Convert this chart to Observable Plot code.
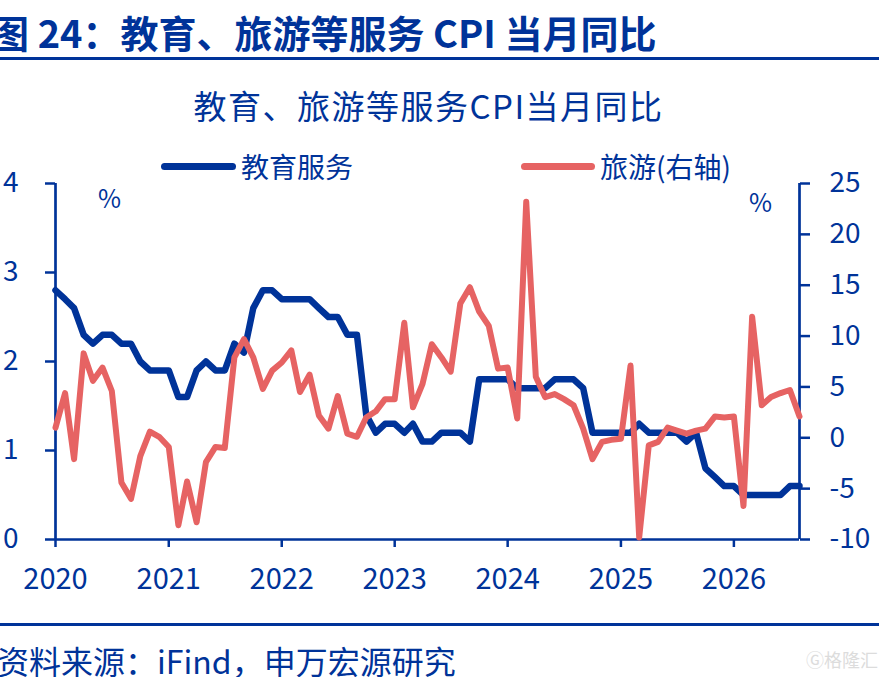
<!DOCTYPE html>
<html>
<head>
<meta charset="utf-8">
<script src="https://cdn.jsdelivr.net/npm/d3@7"></script>
<script src="https://cdn.jsdelivr.net/npm/@observablehq/plot@0.6"></script>
<style>
  html, body { margin: 0; padding: 0; background: #fff; }
  body { width: 879px; height: 677px; position: relative; overflow: hidden; font-family: "Noto Sans CJK SC", "Noto Sans", sans-serif; color: #003399; }
  .abs { position: absolute; white-space: nowrap; }
  #chart { position: absolute; left: 0; top: 170px; }
</style>
</head>
<body>
<div class="abs" style="left:-9px; top:7px; font-size:38px; line-height:50px; font-weight:bold;">图 24：教育、旅游等服务 CPI 当月同比</div>
<div class="abs" style="left:0; top:57px; width:879px; height:3px; background:#003399;"></div>
<div class="abs" style="left:0; top:85px; width:857px; text-align:center; font-size:33px; line-height:40px; letter-spacing:1.5px;">教育、旅游等服务CPI当月同比</div>

<div class="abs" style="left:161px; top:163px; width:75px; height:7px; border-radius:4px; background:#003399;"></div>
<div class="abs" style="left:241px; top:148px; font-size:28px; line-height:36px;">教育服务</div>
<div class="abs" style="left:521px; top:163px; width:74px; height:7px; border-radius:4px; background:#E66363;"></div>
<div class="abs" style="left:600px; top:148px; font-size:28px; line-height:36px;">旅游(右轴)</div>

<div id="chart"></div>

<div class="abs" style="left:0; top:623px; width:879px; height:3px; background:#003399;"></div>
<div class="abs" style="left:-3px; top:640px; font-size:32px; line-height:40px;">资料来源：<span style="text-decoration: underline dotted #e05050; text-underline-offset: 4px;">iFind</span>，申万宏源研究</div>
<div class="abs" style="left:806px; top:648px; font-size:18px; line-height:22px; color:#dcdcdc;">Ⓖ格隆汇</div>

<script>
const blue = "#003399";
const red = "#E66363";

// Monthly observations starting January 2020
const startMonth = "2020-01-01";

// 教育服务 CPI 当月同比 (%, left axis)
const education = [
  2.8, 2.7, 2.6, 2.3, 2.2, 2.3, 2.3, 2.2, 2.2, 2.0, 1.9, 1.9,
  1.9, 1.6, 1.6, 1.9, 2.0, 1.9, 1.9, 2.2, 2.1, 2.6, 2.8, 2.8,
  2.7, 2.7, 2.7, 2.7, 2.6, 2.5, 2.5, 2.3, 2.3, 1.4, 1.2, 1.3,
  1.3, 1.2, 1.3, 1.1, 1.1, 1.2, 1.2, 1.2, 1.1, 1.8, 1.8, 1.8,
  1.8, 1.7, 1.7, 1.7, 1.7, 1.8, 1.8, 1.8, 1.7, 1.2, 1.2, 1.2,
  1.2, 1.2, 1.3, 1.2, 1.2, 1.2, 1.2, 1.1, 1.2, 0.8, 0.7, 0.6,
  0.6, 0.5, 0.5, 0.5, 0.5, 0.5, 0.6, 0.6
];

// 旅游 CPI 当月同比 (%, right axis)
const tourism = [
  1.0, 4.4, -2.1, 8.3, 5.6, 6.9, 4.6, -4.4, -6.0, -1.8, 0.6, 0.1,
  -0.9, -8.6, -4.3, -8.3, -2.4, -0.9, -1.0, 7.9, 9.7, 7.9, 4.8, 6.6,
  7.4, 8.6, 4.5, 6.2, 2.2, 0.9, 4.1, 0.4, 0.1, 2.0, 2.6, 3.8,
  3.8, 11.3, 3.0, 5.3, 9.2, 7.9, 6.5, 13.2, 14.8, 12.4, 11.0, 6.8,
  6.9, 1.9, 23.2, 6.0, 4.0, 4.3, 3.8, 3.2, 0.9, -2.1, -0.4, -0.2,
  -0.1, 7.1, -9.8, -0.75, -0.4, 1.0, 0.7, 0.4, 0.7, 0.9, 2.1, 2.0,
  2.1, -6.7, 11.9, 3.2, 4.0, 4.4, 4.7, 2.1
];

const leftTicks = [0, 1, 2, 3, 4];
const rightTicks = [-10, -5, 0, 5, 10, 15, 20, 25];
const yearTicks = ["2020", "2021", "2022", "2023", "2024", "2025", "2026"];

const leftDomain = [0, 4];
const rightDomain = [-10, 25];
// map right-axis values onto the left scale
const toLeft = v => leftDomain[0] + (v - rightDomain[0]) * (leftDomain[1] - leftDomain[0]) / (rightDomain[1] - rightDomain[0]);
const fromLeft = v => rightDomain[0] + (v - leftDomain[0]) * (rightDomain[1] - rightDomain[0]) / (leftDomain[1] - leftDomain[0]);

const start = new Date(startMonth);
const dateAt = i => d3.utcMonth.offset(start, i);
const eduData = education.map((v, i) => ({date: dateAt(i), value: v}));
const tourData = tourism.map((v, i) => ({date: dateAt(i), value: toLeft(v)}));
const xDomain = [dateAt(0), dateAt(education.length - 1)];

const chart = Plot.plot({
  width: 879,
  height: 440,
  marginTop: 13,
  marginBottom: 71,
  marginLeft: 55,
  marginRight: 80,
  style: {fontFamily: "'Noto Sans CJK SC', 'Noto Sans', sans-serif", fontSize: "28px", color: blue, background: "transparent", overflow: "visible"},
  x: {type: "utc", domain: xDomain},
  y: {domain: leftDomain},
  marks: [
    Plot.axisX(yearTicks.map(y => new Date(y + "-01-01")), {
      tickFormat: d3.utcFormat("%Y"), tickSize: 8, tickPadding: 21, fontSize: 29, strokeWidth: 2.5, label: null
    }),
    Plot.axisY(leftTicks, {anchor: "left", tickSize: 10, tickPadding: 27, fontSize: 28, strokeWidth: 2.5, label: null,
      tickFormat: d => String(d)}),
    Plot.axisY(rightTicks.map(toLeft), {
      anchor: "right", tickSize: 10, tickPadding: 20, fontSize: 28, strokeWidth: 2.5, label: null,
      tickFormat: d => String(Math.round(fromLeft(d)))
    }),
    Plot.ruleY([leftDomain[0]], {stroke: blue, strokeWidth: 2.7}),
    Plot.ruleX([xDomain[0]], {y1: leftDomain[0], y2: leftDomain[1], stroke: blue, strokeWidth: 2.7}),
    Plot.ruleX([xDomain[1]], {y1: leftDomain[0], y2: leftDomain[1], stroke: blue, strokeWidth: 2.7}),
    Plot.line(eduData, {x: "date", y: "value", stroke: blue, strokeWidth: 6.5, strokeLinejoin: "round"}),
    Plot.line(tourData, {x: "date", y: "value", stroke: red, strokeWidth: 6, strokeLinejoin: "round"}),
    Plot.text(["%"], {frameAnchor: "top-left", dx: 54, dy: 16, lineAnchor: "middle", textAnchor: "middle", fontSize: 25, fill: blue}),
    Plot.text(["%"], {frameAnchor: "top-right", dx: -39, dy: 20, lineAnchor: "middle", textAnchor: "middle", fontSize: 25, fill: blue})
  ]
});
document.getElementById("chart").appendChild(chart);
</script>
</body>
</html>
